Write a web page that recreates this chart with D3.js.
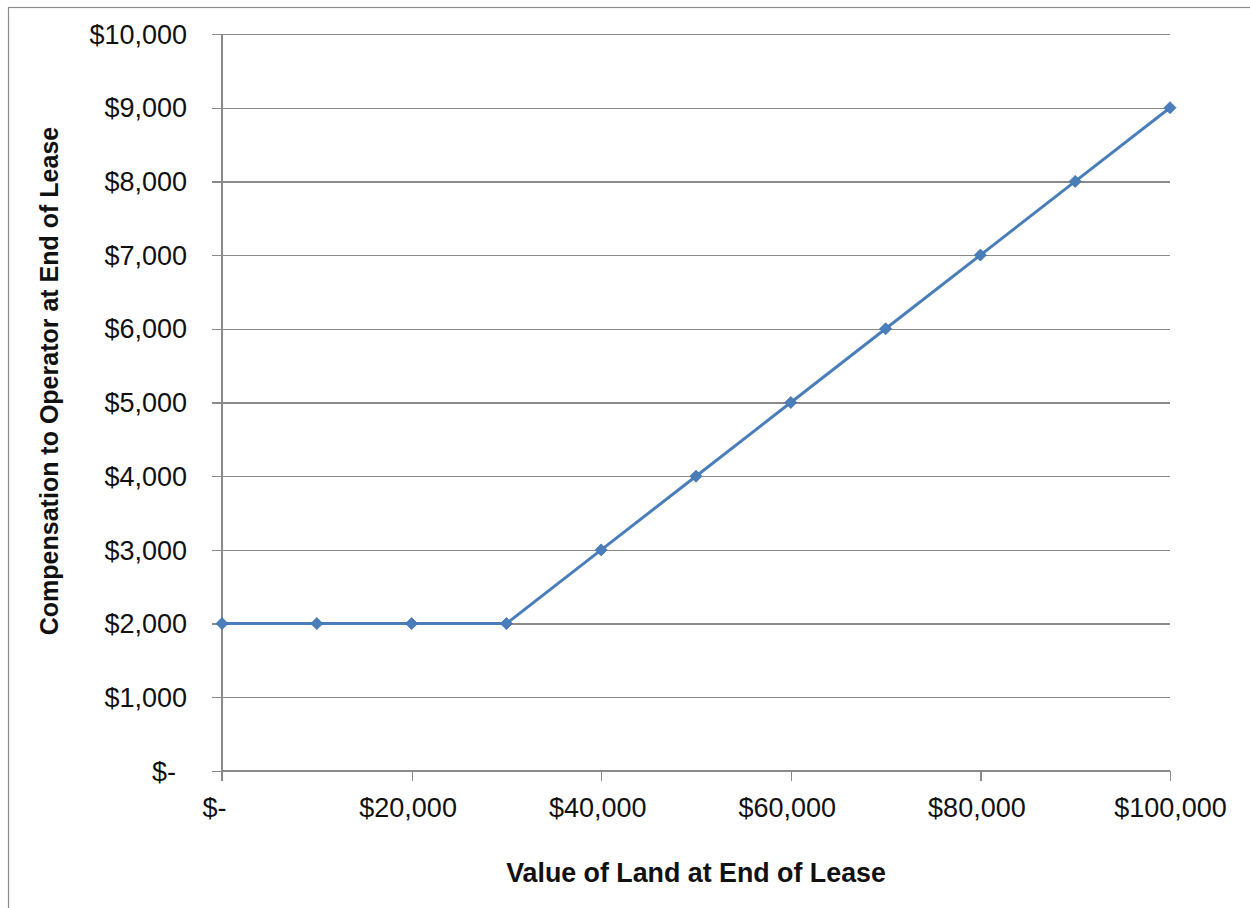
<!DOCTYPE html>
<html>
<head>
<meta charset="utf-8">
<script src="https://cdn.jsdelivr.net/npm/d3@7"></script>
<style>
  html, body { margin: 0; padding: 0; background: #fff; }
  svg { display: block; }
  text { font-family: "Liberation Sans", Arial, sans-serif; fill: #111; }
</style>
</head>
<body>
<svg id="chart" width="1250" height="908"></svg>
<script>
// Land value at end of lease (x) and compensation paid to operator (y)
const landValues = [0, 10000, 20000, 30000, 40000, 50000, 60000, 70000, 80000, 90000, 100000];
const compensation = [2000, 2000, 2000, 2000, 3000, 4000, 5000, 6000, 7000, 8000, 9000];
const xTickValues = [0, 20000, 40000, 60000, 80000, 100000];
const yTickValues = [0, 1000, 2000, 3000, 4000, 5000, 6000, 7000, 8000, 9000, 10000];
const xTitle = "Value of Land at End of Lease";
const yTitle = "Compensation to Operator at End of Lease";

const svg = d3.select("#chart");
const plot = { left: 222, right: 1170, top: 34, bottom: 771 };

const x = d3.scaleLinear().domain([0, 100000]).range([plot.left, plot.right]);
const y = d3.scaleLinear().domain([0, 10000]).range([plot.bottom, plot.top]);

const money = v => v === 0 ? "$-" : "$" + d3.format(",")(v);

// outer chart frame
svg.append("rect")
  .attr("x", 8.5).attr("y", 7.5)
  .attr("width", 1260).attr("height", 920)
  .attr("fill", "#fff").attr("stroke", "#8c8c8c").attr("stroke-width", 1.2);

// horizontal gridlines with left tick labels
const yAxis = d3.axisLeft(y)
  .tickValues(yTickValues)
  .tickSize(-(plot.right - plot.left))
  .tickPadding(0)
  .tickFormat(money);

const gy = svg.append("g")
  .attr("transform", `translate(${plot.left},0)`)
  .call(yAxis);
gy.select(".domain").remove();
gy.selectAll(".tick line")
  .attr("x1", -10)
  .attr("stroke", "#8a8a8a").attr("stroke-width", 1.2)
  .attr("shape-rendering", "crispEdges");
gy.selectAll(".tick text")
  .attr("x", -35)
  .attr("dx", d => d === 0 ? -11 : 0)
  .attr("dy", "0.34em")
  .attr("font-size", 27)
  .attr("fill", "#111");

// vertical axis line
svg.append("line")
  .attr("x1", plot.left).attr("x2", plot.left)
  .attr("y1", plot.top).attr("y2", plot.bottom + 10)
  .attr("stroke", "#8a8a8a").attr("stroke-width", 1.2)
  .attr("shape-rendering", "crispEdges");

// bottom axis with ticks and labels
const xAxis = d3.axisBottom(x)
  .tickValues(xTickValues)
  .tickSize(10)
  .tickPadding(0)
  .tickFormat(money);

const gx = svg.append("g")
  .attr("transform", `translate(0,${plot.bottom})`)
  .call(xAxis);
gx.select(".domain")
  .attr("d", `M${plot.left},0H${plot.right}`)
  .attr("stroke", "#8a8a8a").attr("stroke-width", 1.2)
  .attr("shape-rendering", "crispEdges");
gx.selectAll(".tick line")
  .attr("stroke", "#8a8a8a").attr("stroke-width", 1.2)
  .attr("shape-rendering", "crispEdges");
gx.selectAll(".tick text")
  .attr("y", 46)
  .attr("dy", 0)
  .attr("dx", d => d === 0 ? -8 : (d === 100000 ? 0 : -4))
  .attr("font-size", 27)
  .attr("fill", "#111");

// series line
const points = landValues.map((v, i) => ({ x: v, y: compensation[i] }));
svg.append("path")
  .datum(points)
  .attr("fill", "none")
  .attr("stroke", "#4a7ebb")
  .attr("stroke-width", 3)
  .attr("stroke-linejoin", "round")
  .attr("d", d3.line().x(d => x(d.x)).y(d => y(d.y)));

// diamond markers
svg.append("g").selectAll("path")
  .data(points)
  .join("path")
  .attr("transform", d => `translate(${x(d.x)},${y(d.y)})`)
  .attr("d", "M0,-6L6,0L0,6L-6,0Z")
  .attr("fill", "#4a7ebb")
  .attr("stroke", "#3c6fb0")
  .attr("stroke-width", 0.8);

// axis titles
svg.append("text")
  .attr("x", 696).attr("y", 882)
  .attr("text-anchor", "middle")
  .attr("font-size", 26.8)
  .attr("font-weight", "bold")
  .text(xTitle);

svg.append("text")
  .attr("transform", "translate(58,381) rotate(-90)")
  .attr("text-anchor", "middle")
  .attr("font-size", 25)
  .attr("font-weight", "bold")
  .text(yTitle);
</script>
</body>
</html>
